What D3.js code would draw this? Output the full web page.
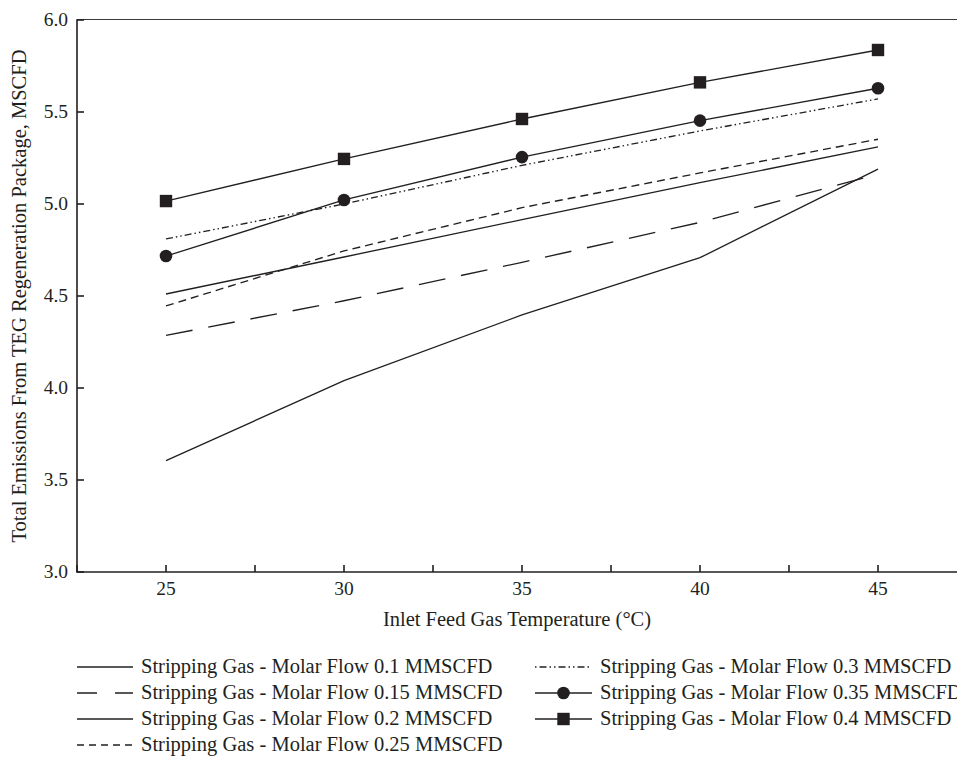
<!DOCTYPE html>
<html>
<head>
<meta charset="utf-8">
<script src="https://cdn.jsdelivr.net/npm/d3@7"></script>
<style>
  html, body { margin: 0; padding: 0; background: #fff; }
  svg { display: block; }
  text { font-family: "Liberation Serif", "Times New Roman", serif; fill: #231f20; }
</style>
</head>
<body>
<script>
// Total emissions vs inlet feed gas temperature, one line per stripping gas flow.

const temps = [25, 30, 35, 40, 45];
const flow010 = [3.605, 4.04, 4.397, 4.708, 5.19];
const flow015 = [4.286, 4.474, 4.683, 4.90, 5.163];
const flow020 = [4.511, 4.712, 4.915, 5.116, 5.31];
const flow025 = [4.446, 4.745, 4.98, 5.169, 5.352];
const flow030 = [4.81, 5.0, 5.21, 5.397, 5.571];
const flow035 = [4.717, 5.022, 5.255, 5.453, 5.629];
const flow040 = [5.016, 5.245, 5.462, 5.661, 5.837];

const labels = [
  "Stripping Gas - Molar Flow 0.1 MMSCFD",
  "Stripping Gas - Molar Flow 0.15 MMSCFD",
  "Stripping Gas - Molar Flow 0.2 MMSCFD",
  "Stripping Gas - Molar Flow 0.25 MMSCFD",
  "Stripping Gas - Molar Flow 0.3 MMSCFD",
  "Stripping Gas - Molar Flow 0.35 MMSCFD",
  "Stripping Gas - Molar Flow 0.4 MMSCFD",
];
const xTicks = [25, 30, 35, 40, 45];
const xMinorTicks = [22.5, 27.5, 32.5, 37.5, 42.5, 47.5];
const yTicks = [3.0, 3.5, 4.0, 4.5, 5.0, 5.5, 6.0];

const W = 957, H = 765;
const INK = "#231f20";
const TICK_FONT = 19.5, FONT = 20.5;

// line style per series: dash pattern, legend dash, marker
const styles = [
  { dash: null, legDash: null, marker: null },
  { dash: "27,16", legDash: "20,18,18", marker: null },
  { dash: null, legDash: null, marker: null },
  { dash: "8,5", legDash: "7,5", marker: null },
  { dash: "7,3,1.5,3,1.5,3", legDash: "1.5,3,7,3,1.5,3", marker: null },
  { dash: null, legDash: null, marker: "circle" },
  { dash: null, legDash: null, marker: "square" },
];
const seriesValues = [flow010, flow015, flow020, flow025, flow030, flow035, flow040];
const series = seriesValues.map((vals, i) => ({
  label: labels[i], style: styles[i],
  points: temps.map((t, j) => ({ x: t, y: vals[j] })),
}));

const x = d3.scaleLinear().domain([22.5, 47.5]).range([77, 967]);
const y = d3.scaleLinear().domain([3.0, 6.0]).range([572, 20]);

const svg = d3.select("body").append("svg").attr("width", W).attr("height", H);

// top frame line
svg.append("line")
  .attr("x1", x(22.5)).attr("x2", W).attr("y1", 19.5).attr("y2", 19.5)
  .attr("stroke", "#3a3a3a").attr("stroke-width", 1.2);

// axes
const ax = svg.append("g");
ax.append("line").attr("x1", x(22.5)).attr("x2", W).attr("y1", y(3)).attr("y2", y(3))
  .attr("stroke", INK).attr("stroke-width", 1.6);
ax.append("line").attr("x1", x(22.5)).attr("x2", x(22.5)).attr("y1", y(6) - 0.8).attr("y2", y(3) + 0.8)
  .attr("stroke", INK).attr("stroke-width", 1.6);

ax.selectAll("line.xt").data(xTicks.concat(xMinorTicks)).enter().append("line")
  .attr("class", "xt")
  .attr("x1", (d) => x(d)).attr("x2", (d) => x(d))
  .attr("y1", y(3)).attr("y2", y(3) - 7)
  .attr("stroke", INK).attr("stroke-width", 1.6);
ax.selectAll("text.xl").data(xTicks).enter().append("text")
  .attr("class", "xl")
  .attr("x", (d) => x(d)).attr("y", 595)
  .attr("text-anchor", "middle").style("font-size", TICK_FONT + "px")
  .text((d) => d);

ax.selectAll("line.yt").data(yTicks).enter().append("line")
  .attr("class", "yt")
  .attr("x1", x(22.5)).attr("x2", x(22.5) + 7)
  .attr("y1", (d) => y(d)).attr("y2", (d) => y(d))
  .attr("stroke", INK).attr("stroke-width", 1.6);
ax.selectAll("text.yl").data(yTicks).enter().append("text")
  .attr("class", "yl")
  .attr("x", 68).attr("y", (d) => y(d) + 6)
  .attr("text-anchor", "end").style("font-size", TICK_FONT + "px")
  .text((d) => d3.format(".1f")(d));

svg.append("text")
  .attr("x", (x(22.5) + x(47.5)) / 2 - 5).attr("y", 626)
  .attr("text-anchor", "middle").style("font-size", FONT + "px")
  .text("Inlet Feed Gas Temperature (°C)");

svg.append("text")
  .attr("transform", `translate(26,${(y(3) + y(6)) / 2}) rotate(-90)`)
  .attr("text-anchor", "middle").style("font-size", FONT + "px")
  .text("Total Emissions From TEG Regeneration Package, MSCFD");

// series lines
const line = d3.line().x((d) => x(d.x)).y((d) => y(d.y));
const plot = svg.append("g");
series.forEach((s) => {
  plot.append("path")
    .attr("d", line(s.points))
    .attr("fill", "none").attr("stroke", INK).attr("stroke-width", 1.35)
    .attr("stroke-dasharray", s.style.dash);
});

function drawMarker(g, type, cx, cy) {
  if (type === "circle") {
    g.append("circle").attr("cx", cx).attr("cy", cy).attr("r", 6.3).attr("fill", INK);
  } else if (type === "square") {
    g.append("rect").attr("x", cx - 6.2).attr("y", cy - 6.2)
      .attr("width", 12.4).attr("height", 12.4).attr("fill", INK);
  }
}
series.forEach((s) => {
  if (!s.style.marker) return;
  s.points.forEach((p) => drawMarker(plot, s.style.marker, x(p.x), y(p.y)));
});

// legend
const legend = svg.append("g");
const rowY = (r) => 667 + r * 26;
series.forEach((s, i) => {
  const col = i < 4 ? 0 : 1;
  const row = i < 4 ? i : i - 4;
  const x0 = col === 0 ? 77 : 535, x1 = col === 0 ? 133 : 592;
  const tx = col === 0 ? 141 : 600;
  const cy = rowY(row);
  legend.append("line")
    .attr("x1", x0).attr("x2", x1).attr("y1", cy).attr("y2", cy)
    .attr("stroke", INK).attr("stroke-width", 1.5)
    .attr("stroke-dasharray", s.style.legDash);
  if (s.style.marker) drawMarker(legend, s.style.marker, (x0 + x1) / 2, cy);
  legend.append("text")
    .attr("x", tx).attr("y", cy + 6)
    .style("font-size", FONT + "px")
    .text(s.label);
});
</script>
</body>
</html>
